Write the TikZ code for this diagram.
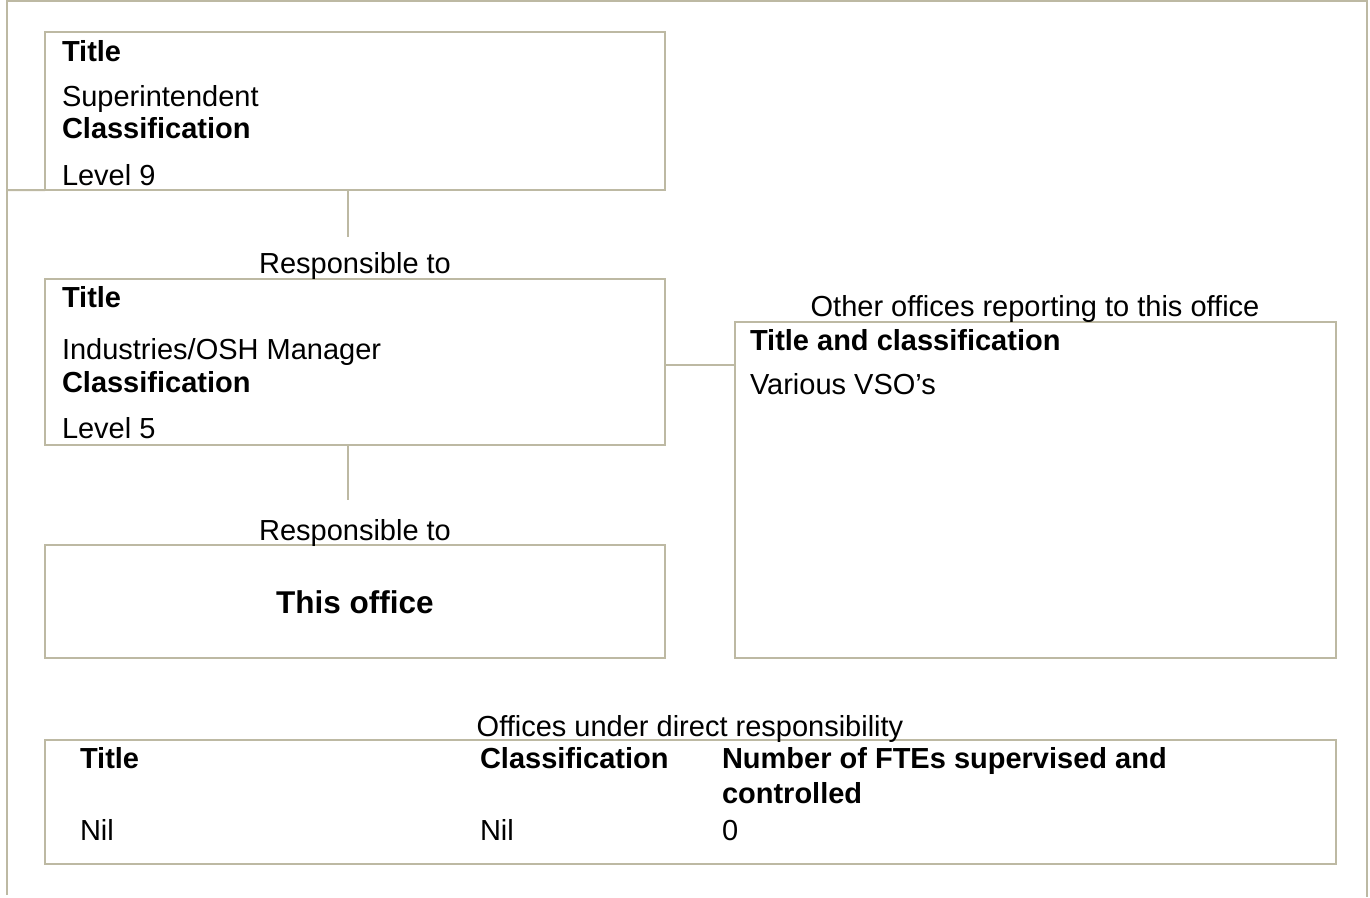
\documentclass[tikz,border=0pt]{standalone}
\usepackage{fontspec}
\setmainfont{Liberation Sans}
\definecolor{lineclr}{RGB}{189,185,163}
\begin{document}
\begin{tikzpicture}[x=1bp,y=-1bp,
  ln/.style={draw=lineclr,line width=2bp},
  box/.style={ln,rectangle,inner sep=0,outer sep=0,anchor=north west},
  txt/.style={anchor=base west,inner sep=0,outer sep=0,font=\fontsize{29bp}{34bp}\selectfont},
  ctxt/.style={txt,anchor=base},
  btxt/.style={txt,font=\fontsize{29bp}{34bp}\selectfont\bfseries}]
\useasboundingbox (0,0) rectangle (1370,897);
% outer frame
\coordinate (fTL) at (7,1);
\coordinate (fTR) at (1367,1);
\coordinate (fBL) at (7,895);
\coordinate (fBR) at (1367,897);
\coordinate (fML) at (7,190);
\draw[ln] (fBL) -- (7,0);
\draw[ln] (fTL) -- (fTR);
\draw[ln] (1367,0) -- (fBR);
% boxes
\node[box,minimum width=620bp,minimum height=158bp] (b1) at (45,32) {};
\node[box,minimum width=620bp,minimum height=166bp] (b2) at (45,279) {};
\node[box,minimum width=620bp,minimum height=113bp] (b3) at (45,545) {};
\node[box,minimum width=601bp,minimum height=336bp] (b4) at (735,322) {};
\node[box,minimum width=1291bp,minimum height=124bp] (tb) at (45,740) {};
\draw[ln] (fML) -- (b1.south west);
% connectors
\coordinate (c1) at (348,237);
\coordinate (c2) at (348,500);
\draw[ln] (b1.south -| c1) -- (c1);
\draw[ln] (b2.south -| c2) -- (c2);
\coordinate (c3) at (665,365);
\draw[ln] (c3) -- (c3 -| b4.west);
% box 1 texts
\node[btxt] (t1a) at (62,61) {Title};
\node[txt] (t1b) at (62,106) {Superintendent};
\node[btxt] (t1c) at (62,138) {Classification};
\node[txt] (t1d) at (62,185) {Level 9};
\node[ctxt] (r1) at (355,273) {Responsible to};
% box 2 texts
\node[btxt] (t2a) at (62,307) {Title};
\node[txt] (t2b) at (62,359) {Industries/OSH Manager};
\node[btxt] (t2c) at (62,392) {Classification};
\node[txt] (t2d) at (62,438) {Level 5};
\node[ctxt] (r2) at (355,540) {Responsible to};
% box 3
\node[anchor=base,inner sep=0,font=\fontsize{31.5bp}{36bp}\selectfont\bfseries] (t3) at (355,613) {This office};
% box 4
\node[ctxt] (o1) at (1035,316) {Other offices reporting to this office};
\node[btxt] (t4a) at (750,350) {Title and classification};
\node[txt] (t4b) at (750,394) {Various VSO’s};
% table
\node[ctxt] (o2) at (690,736) {Offices under direct responsibility};
\node[btxt] (h1) at (80,768) {Title};
\node[btxt] (h2) at (480,768) {Classification};
\node[btxt] (h3) at (722,768) {Number of FTEs supervised and};
\node[btxt] (h3b) at (722,803) {controlled};
\node[txt] (d1) at (80,840) {Nil};
\node[txt] (d2) at (480,840) {Nil};
\node[txt] (d3) at (722,840) {0};
\end{tikzpicture}
\end{document}
